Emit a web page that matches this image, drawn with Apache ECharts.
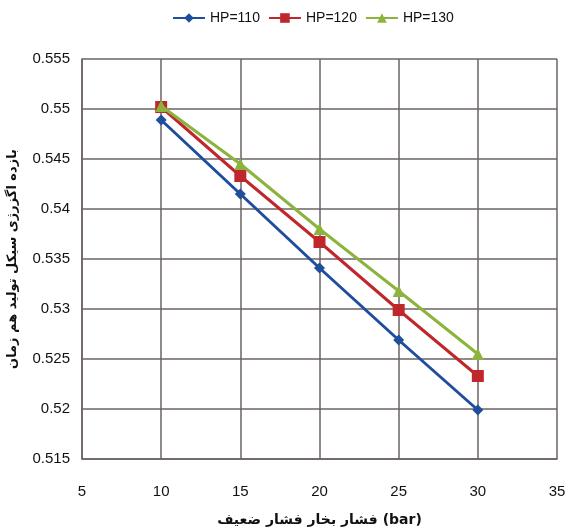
<!DOCTYPE html>
<html><head><meta charset="utf-8">
<script src="https://cdn.jsdelivr.net/npm/echarts@6/dist/echarts.min.js"></script>
<style>html,body{margin:0;padding:0;background:#fff}#c{width:565px;height:530px}</style>
</head><body><div id="c"></div>
<script>
const xValues = [10, 15, 20, 25, 30];
const hp110 = [0.5489, 0.5415, 0.5341, 0.5269, 0.5199];
const hp120 = [0.5502, 0.5433, 0.5367, 0.5299, 0.5233];
const hp130 = [0.5503, 0.5445, 0.5380, 0.5318, 0.5255];
const seriesNames = ['HP=110', 'HP=120', 'HP=130'];
const xTitle = 'فشار بخار فشار ضعیف (bar)';
const yTitle = 'بازده اگزرژی سیکل تولید هم زمان';

const font = "'Liberation Sans Narrow', 'Liberation Sans', Arial, sans-serif";
const colors = ['#1f4e9c', '#c0272d', '#8cb43c'];
const symbols = ['diamond', 'rect', 'triangle'];
const sizes = [11, 12, 12];
const datasets = [hp110, hp120, hp130];

const chart = echarts.init(document.getElementById('c'));
chart.setOption({
  animation: false,
  legend: {
    top: 6, left: 167, itemWidth: 32, itemHeight: 12, itemGap: 8,
    textStyle: {fontFamily: font, fontSize: 14, color: '#111'},
    data: seriesNames
  },
  grid: {left: 82, right: 8, top: 59, bottom: 71, containLabel: false, outerBoundsMode: 'none'},
  xAxis: {
    type: 'value', min: 5, max: 35, interval: 5,
    name: xTitle, nameLocation: 'middle', nameGap: 54,
    nameTextStyle: {fontFamily: "'DejaVu Sans', sans-serif", fontWeight: 'bold', fontSize: 14, color: '#111'},
    axisLine: {show: true, lineStyle: {color: '#6b6363', width: 1.5}},
    axisTick: {show: false},
    axisLabel: {fontFamily: font, fontSize: 15, color: '#111', margin: 25},
    splitLine: {show: true, lineStyle: {color: '#6b6363', width: 1.5}}
  },
  yAxis: {
    type: 'value', min: 0.515, max: 0.555, interval: 0.005,
    name: yTitle, nameLocation: 'middle', nameGap: 63, nameRotate: 90,
    nameTextStyle: {fontFamily: "'DejaVu Sans', sans-serif", fontWeight: 'bold', fontSize: 13, color: '#111'},
    axisLine: {show: true, lineStyle: {color: '#6b6363', width: 1.5}},
    axisTick: {show: false},
    axisLabel: {fontFamily: font, fontSize: 15, color: '#111', margin: 12,
      formatter: v => String(+v.toFixed(3))},
    splitLine: {show: true, lineStyle: {color: '#6b6363', width: 1.5}}
  },
  series: seriesNames.map((n, i) => ({
    name: n, type: 'line',
    data: xValues.map((x, j) => [x, datasets[i][j]]),
    symbol: symbols[i], symbolSize: sizes[i], showAllSymbol: true,
    lineStyle: {color: colors[i], width: 3},
    itemStyle: {color: colors[i]},
    z: 3 + i
  }))
});
</script></body></html>
